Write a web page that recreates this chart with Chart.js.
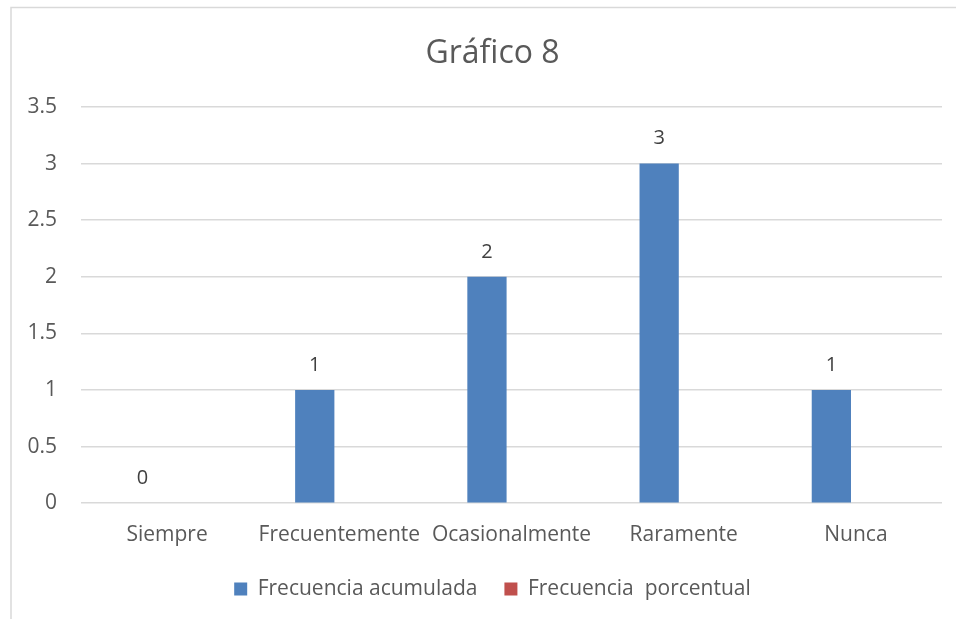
<!DOCTYPE html>
<html>
<head>
<meta charset="utf-8">
<script src="https://cdn.jsdelivr.net/npm/chart.js@4.4.1/dist/chart.umd.min.js"></script>
<style>
  html, body { margin: 0; padding: 0; background: #fff; }
  #wrap { position: relative; width: 956px; height: 619px; }
</style>
</head>
<body>
<div id="wrap"><canvas id="grafico"></canvas></div>
<script>
// Datos del gráfico
const categorias = ['Siempre', 'Frecuentemente', 'Ocasionalmente', 'Raramente', 'Nunca'];
const frecAcumulada = [0, 1, 2, 3, 1];
const frecPorcentual = [0, 0, 0, 0, 0];
const yTicks = [0, 0.5, 1, 1.5, 2, 2.5, 3, 3.5];

const FUENTE = "'Open Sans', 'Noto Sans', sans-serif";

// Marco gris (solo se ve arriba y a la izquierda, la imagen está recortada)
const marco = {
    id: 'marco',
    beforeDraw(chart) {
        const c = chart.ctx;
        c.save();
        c.strokeStyle = '#d9d9d9';
        c.lineWidth = 1.5;
        c.beginPath();
        c.moveTo(11, chart.height);
        c.lineTo(11, 7.5);
        c.lineTo(chart.width, 7.5);
        c.stroke();
        c.restore();
    }
};

// Etiquetas de valor encima de las barras azules
const etiquetas = {
    id: 'etiquetas',
    afterDatasetsDraw(chart) {
        const c = chart.ctx;
        const meta = chart.getDatasetMeta(0);
        c.save();
        c.font = `20px ${FUENTE}`;
        c.fillStyle = '#404040';
        c.textAlign = 'center';
        c.textBaseline = 'middle';
        meta.data.forEach((bar, i) => {
            c.fillText(String(frecAcumulada[i]), bar.x, bar.y - 25);
        });
        c.restore();
    }
};

new Chart(document.getElementById('grafico'), {
    type: 'bar',
    data: {
        labels: categorias,
        datasets: [
            {
                label: 'Frecuencia acumulada',
                data: frecAcumulada,
                backgroundColor: '#4f81bd',
                categoryPercentage: 0.57,
                barPercentage: 0.8
            },
            {
                label: 'Frecuencia  porcentual',
                data: frecPorcentual,
                backgroundColor: '#c0504d',
                categoryPercentage: 0.57,
                barPercentage: 0.8
            }
        ]
    },
    options: {
        responsive: true,
        maintainAspectRatio: false,
        animation: false,
        // el gráfico original está recortado a la derecha: título y leyenda centrados algo más a la derecha
        layout: { padding: { left: 24, right: -5, top: 0, bottom: 9.4 } },
        scales: {
            y: {
                min: 0,
                max: 3.5,
                afterBuildTicks: (s) => { s.ticks = yTicks.map(v => ({ value: v })); },
                afterFit: (s) => { s.width = 57; },
                border: { display: false },
                grid: { color: '#d9d9d9', lineWidth: 1.5, drawTicks: false },
                ticks: {
                    padding: 24,
                    color: '#595959',
                    font: { family: FUENTE, size: 21 },
                    callback: (v) => String(v)
                }
            },
            // eje vacío a la derecha, solo reserva espacio
            margen: {
                type: 'linear',
                position: 'right',
                afterFit: (s) => { s.width = 19; },
                border: { display: false },
                grid: { display: false },
                ticks: { display: false }
            },
            x: {
                afterFit: (s) => { s.height = 48.4; },
                border: { display: false },
                grid: { display: false, drawTicks: false },
                ticks: {
                    padding: 19,
                    color: '#595959',
                    maxRotation: 0,
                    autoSkip: false,
                    font: { family: FUENTE, size: 21 }
                }
            }
        },
        plugins: {
            title: {
                display: true,
                text: 'Gráfico 8',
                color: '#595959',
                font: { family: FUENTE, size: 32, weight: 'normal' },
                padding: { top: 35, bottom: 33.6 }
            },
            legend: {
                position: 'bottom',
                labels: {
                    color: '#595959',
                    font: { family: FUENTE, size: 21 },
                    boxWidth: 13,
                    boxHeight: 13,
                    padding: 27
                }
            },
            tooltip: { enabled: false }
        }
    },
    plugins: [marco, etiquetas]
});
</script>
</body>
</html>
